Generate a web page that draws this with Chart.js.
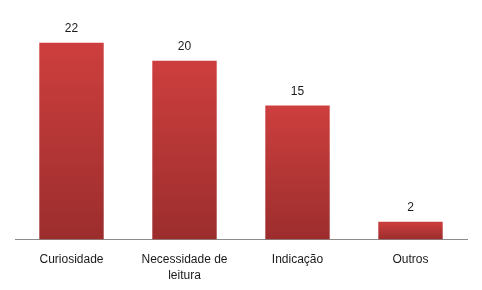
<!DOCTYPE html>
<html><head><meta charset="utf-8">
<script src="https://cdn.jsdelivr.net/npm/chart.js@4/dist/chart.umd.min.js"></script>
<style>html,body{margin:0;padding:0;background:#fff}#w{width:482px;height:290px}</style>
</head><body><div id="w"><canvas id="c"></canvas></div>
<script>
const categories = [['Curiosidade'], ['Necessidade de', 'leitura'], ['Indicação'], ['Outros']];
const values = [22, 20, 15, 2];

const labelPlugin = {
  id: 'valueLabels',
  afterDatasetsDraw(chart) {
    const ctx = chart.ctx;
    const meta = chart.getDatasetMeta(0);
    ctx.save();
    ctx.font = '12px "Liberation Sans", Arial, sans-serif';
    ctx.fillStyle = '#1a1a1a';
    ctx.textAlign = 'center';
    ctx.textBaseline = 'bottom';
    meta.data.forEach((el, i) => {
      ctx.fillText(String(values[i]), el.x, el.y - 8);
    });
    ctx.restore();
  }
};

new Chart(document.getElementById('c'), {
  type: 'bar',
  data: {
    labels: categories,
    datasets: [{
      data: values,
      backgroundColor(context) {
        const chart = context.chart;
        const area = chart.chartArea;
        if (!area) return '#c03a3a';
        const y = chart.scales.y;
        const v = context.raw;
        const top = y.getPixelForValue(v);
        const bottom = y.getPixelForValue(0);
        const g = chart.ctx.createLinearGradient(0, top, 0, bottom);
        g.addColorStop(0, '#cd3f3e');
        g.addColorStop(1, '#9c2d2d');
        return g;
      },
      borderWidth: 0,
      categoryPercentage: 0.57,
      barPercentage: 1
    }]
  },
  options: {
    responsive: true,
    maintainAspectRatio: false,
    animation: false,
    layout: { padding: { top: 16, left: 15, right: 15, bottom: 2 } },
    plugins: { legend: { display: false }, tooltip: { enabled: false } },
    scales: {
      y: { display: false, min: 0, max: 25 },
      x: {
        grid: { display: false },
        border: { display: true, color: '#8c8c8c', width: 1 },
        ticks: {
          color: '#1a1a1a',
          font: { family: '"Liberation Sans", Arial, sans-serif', size: 12, lineHeight: 1.35 },
          padding: 4,
          maxRotation: 0
        }
      }
    }
  },
  plugins: [labelPlugin]
});
</script>
</body></html>
